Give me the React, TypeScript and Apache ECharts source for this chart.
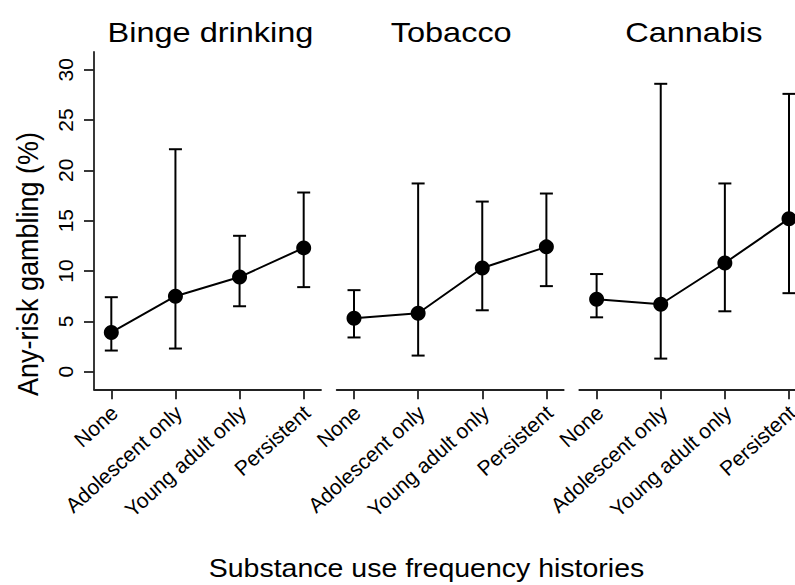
import React, { useEffect, useRef } from "react";
import * as echarts from "echarts";

const categories = ["None", "Adolescent only", "Young adult only", "Persistent"];
const categoryX = [1, 2, 3, 4];
const panelTitles = ["Binge drinking", "Tobacco", "Cannabis"];

const bingeEst = [3.9, 7.5, 9.4, 12.3];
const bingeLow = [2.1, 2.3, 6.5, 8.4];
const bingeHigh = [7.4, 22.1, 13.5, 17.8];

const tobaccoEst = [5.3, 5.8, 10.3, 12.4];
const tobaccoLow = [3.4, 1.6, 6.1, 8.5];
const tobaccoHigh = [8.1, 18.7, 16.9, 17.7];

const cannabisEst = [7.2, 6.7, 10.8, 15.2];
const cannabisLow = [5.4, 1.3, 6.0, 7.8];
const cannabisHigh = [9.7, 28.6, 18.7, 27.6];

const yTicks = [0, 5, 10, 15, 20, 25, 30];
const yTitle = "Any-risk gambling (%)";
const xTitle = "Substance use frequency histories";

const FONT = "'Liberation Sans', Arial, Helvetica, sans-serif";

export default function App() {
  const ref = useRef<HTMLDivElement>(null);

  useEffect(() => {
    if (!ref.current) return;
    const chart = echarts.init(ref.current, null, { renderer: "svg" });

    const panels = [
      { est: bingeEst, low: bingeLow, high: bingeHigh, left: 94 },
      { est: tobaccoEst, low: tobaccoLow, high: tobaccoHigh, left: 336.7 },
      { est: cannabisEst, low: cannabisLow, high: cannabisHigh, left: 579.3 },
    ];
    const gridW = 227;
    const gridTop = 52;
    const gridH = 337.3;

    const axisColor = "#222";
    // labels sit a hair to the right of their ticks, as in the original
    const labelX = categoryX.map((v) => v + 0.05);

    const grid = panels.map((p) => ({
      left: p.left,
      top: gridTop,
      width: gridW,
      height: gridH,
      containLabel: false,
    }));

    const xAxis = panels.map((_, i) => ({
      type: "value",
      gridIndex: i,
      min: 0.73,
      max: 4.27,
      axisLine: { show: true, onZero: false, lineStyle: { color: axisColor, width: 1.8 } },
      axisTick: {
        show: true,
        inside: false,
        length: 10,
        customValues: categoryX,
        lineStyle: { color: axisColor, width: 1.8 },
      },
      axisLabel: {
        show: true,
        customValues: labelX,
        rotate: 42,
        margin: 20,
        fontSize: 21,
        fontFamily: FONT,
        color: "#000",
        formatter: (v: number) => categories[Math.round(v) - 1] ?? "",
      },
      splitLine: { show: false },
    }));

    const yAxis = panels.map((_, i) => ({
      type: "value",
      gridIndex: i,
      min: -1.75,
      max: 31.76,
      axisLine: { show: i === 0, onZero: false, lineStyle: { color: axisColor, width: 1.8 } },
      axisTick: {
        show: i === 0,
        inside: false,
        length: 10,
        customValues: yTicks,
        lineStyle: { color: axisColor, width: 1.8 },
      },
      axisLabel: {
        show: i === 0,
        customValues: yTicks,
        rotate: 90,
        margin: 18,
        fontSize: 21,
        fontFamily: FONT,
        color: "#000",
      },
      splitLine: { show: false },
    }));

    const series: any[] = [];
    panels.forEach((p, i) => {
      series.push({
        type: "custom",
        xAxisIndex: i,
        yAxisIndex: i,
        data: categoryX.map((x, k) => [x, p.low[k], p.high[k]]),
        encode: { x: 0, y: [1, 2] },
        renderItem: (params: any, api: any) => {
          const x = api.value(0);
          const lo = api.coord([x, api.value(1)]);
          const hi = api.coord([x, api.value(2)]);
          const w = 6.5;
          const style = { stroke: "#000", lineWidth: 2 };
          return {
            type: "group",
            children: [
              { type: "line", shape: { x1: hi[0], y1: hi[1], x2: lo[0], y2: lo[1] }, style },
              { type: "line", shape: { x1: hi[0] - w, y1: hi[1], x2: hi[0] + w, y2: hi[1] }, style },
              { type: "line", shape: { x1: lo[0] - w, y1: lo[1], x2: lo[0] + w, y2: lo[1] }, style },
            ],
          };
        },
        z: 2,
      });
      series.push({
        type: "line",
        xAxisIndex: i,
        yAxisIndex: i,
        data: categoryX.map((x, k) => [x, p.est[k]]),
        symbol: "circle",
        symbolSize: 15,
        itemStyle: { color: "#000" },
        lineStyle: { color: "#000", width: 2 },
        z: 3,
      });
    });

    const graphic: any[] = panels.map((p, i) => ({
      type: "text",
      x: p.left + gridW / 2 + (i === 0 ? 3 : 1),
      y: 32,
      scaleX: 1.14,
      style: {
        text: panelTitles[i],
        fontSize: 28.5,
        fontFamily: FONT,
        fill: "#000",
        textAlign: "center",
        textVerticalAlign: "middle",
      },
    }));
    graphic.push({
      type: "text",
      x: 28,
      y: 264,
      rotation: Math.PI / 2,
      scaleY: 1.1,
      style: {
        text: yTitle,
        fontSize: 27,
        fontFamily: FONT,
        fill: "#000",
        textAlign: "center",
        textVerticalAlign: "middle",
      },
    });
    graphic.push({
      type: "text",
      x: 426.5,
      y: 569,
      scaleX: 1.14,
      style: {
        text: xTitle,
        fontSize: 25,
        fontFamily: FONT,
        fill: "#000",
        textAlign: "center",
        textVerticalAlign: "middle",
      },
    });

    chart.setOption({
      animation: false,
      backgroundColor: "#fff",
      grid,
      xAxis,
      yAxis,
      series,
      graphic,
    });

    return () => chart.dispose();
  }, []);

  return (
    <div
      style={{
        position: "fixed",
        left: 0,
        top: 0,
        width: 795,
        height: 585,
        overflow: "hidden",
        background: "#fff",
      }}
    >
      <div ref={ref} style={{ width: 812, height: 585 }} />
    </div>
  );
}
